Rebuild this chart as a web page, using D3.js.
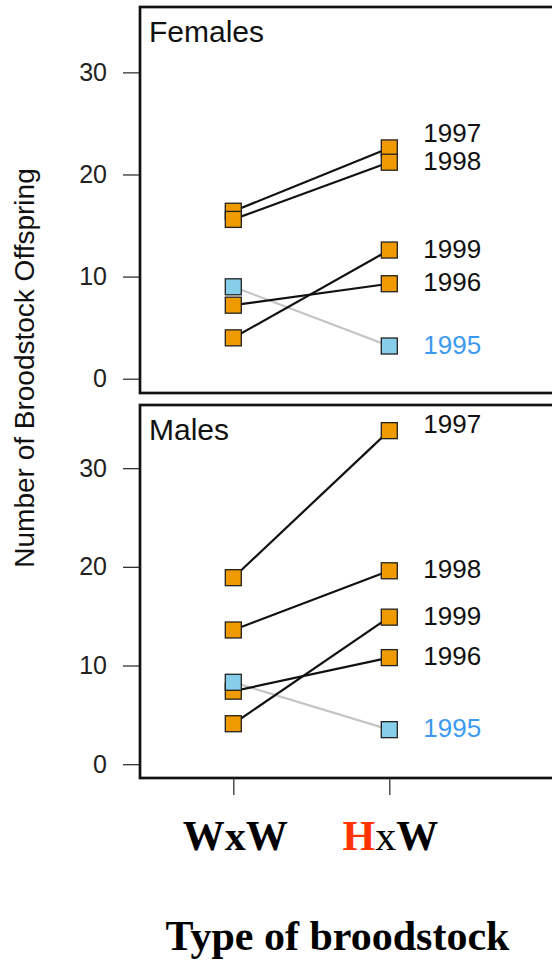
<!DOCTYPE html>
<meta charset="utf-8">
<script src="https://d3js.org/d3.v7.min.js"></script>
<style>
  body { margin: 0; background: #fff; }
  text { font-family: "Liberation Sans", Arial, sans-serif; }
  .serif { font-family: "Liberation Serif", "Times New Roman", serif; font-weight: bold; }
</style>
<div id="chart"></div>
<script>
// data
var years = ["1997", "1998", "1999", "1996", "1995"];
var groups = ["WxW", "HxW"];
var femalesWxW = [16.4, 15.6, 4.0, 7.2, 9.0];
var femalesHxW = [22.6, 21.2, 12.6, 9.3, 3.2];
var malesWxW = [18.9, 13.6, 4.1, 7.4, 8.3];
var malesHxW = [33.8, 19.6, 14.9, 10.8, 3.5];
var yTicks = [0, 10, 20, 30];

var width = 552, height = 963;
var orange = "#ee9a00", sky = "#87ceeb";

var svg = d3.select("#chart").append("svg")
    .attr("width", width)
    .attr("height", height);

// both panels share x
var x = d3.scalePoint().domain(groups).range([233.3, 389.3]);

var panels = [
  {name: "Females", wxw: femalesWxW, hxw: femalesHxW, top: 7, bottom: 393},
  {name: "Males", wxw: malesWxW, hxw: malesHxW, top: 405, bottom: 778}
];

panels.forEach(function(p) {
  // R style ylim c(0,35) with 4% padding
  var y = d3.scaleLinear().domain([-1.4, 36.4]).range([p.bottom, p.top]);
  var g = svg.append("g");

  // y axis
  var ax = g.append("g")
      .attr("transform", "translate(140,0)")
      .call(d3.axisLeft(y).tickValues(yTicks).tickSize(17).tickPadding(16));
  ax.select(".domain").remove();
  ax.selectAll("line").attr("stroke", "#333").attr("stroke-width", 1.3);
  ax.selectAll("text")
      .attr("fill", "#222")
      .style("font-size", "25px")
      .style("font-family", "Liberation Sans, Arial, sans-serif");

  var rows = years.map(function(yr, i) {
    return {year: yr, values: [p.wxw[i], p.hxw[i]]};
  });

  // lines first, grey one underneath
  var line = d3.line()
      .x(function(d, i) { return x(groups[i]); })
      .y(function(d) { return y(d); });
  var lineOrder = rows.slice().sort(function(a, b) { return a.year === "1995" ? -1 : 0; });
  g.selectAll(".ln")
      .data(lineOrder)
      .enter().append("path")
      .attr("d", function(d) { return line(d.values); })
      .attr("fill", "none")
      .attr("stroke", function(d) { return d.year === "1995" ? "#c4c4c4" : "#111"; })
      .attr("stroke-width", 2.2);

  // squares
  var sq = 16;
  rows.forEach(function(r) {
    g.selectAll(null)
        .data(r.values)
        .enter().append("rect")
        .attr("x", function(d, i) { return x(groups[i]) - sq / 2; })
        .attr("y", function(d) { return y(d) - sq / 2; })
        .attr("width", sq)
        .attr("height", sq)
        .attr("fill", r.year === "1995" ? sky : orange)
        .attr("stroke", "#222")
        .attr("stroke-width", 1.3);
  });

  // year labels next to the HxW points, pushed apart when they crowd
  var labs = rows.map(function(r) { return {year: r.year, ly: y(r.values[1]) - 1.5}; });
  labs.sort(function(a, b) { return b.ly - a.ly; });
  for (var i = 1; i < labs.length; i++) {
    if (labs[i - 1].ly - labs[i].ly < 28) labs[i].ly = labs[i - 1].ly - 28;
  }
  // hand placed in the original
  if (p.name === "Males") labs.forEach(function(l) { if (l.year === "1997") l.ly -= 5; });

  g.selectAll(".lab")
      .data(labs)
      .enter().append("text")
      .attr("x", x("HxW") + 34)
      .attr("y", function(d) { return d.ly; })
      .attr("dy", "0.35em")
      .style("font-size", "26px")
      .attr("fill", function(d) { return d.year === "1995" ? "#3d9af2" : "#111"; })
      .text(function(d) { return d.year; });

  // panel box
  g.append("rect")
      .attr("x", 140)
      .attr("y", p.top)
      .attr("width", 440)
      .attr("height", p.bottom - p.top)
      .attr("fill", "none")
      .attr("stroke", "#111")
      .attr("stroke-width", 2.7);

  g.append("text")
      .attr("x", 149)
      .attr("y", p.top + 35)
      .style("font-size", "30px")
      .attr("fill", "#111")
      .text(p.name);

  if (p.name === "Males") {
    var bx = g.append("g")
        .attr("transform", "translate(0," + p.bottom + ")")
        .call(d3.axisBottom(x).tickSize(17).tickFormat(""));
    bx.select(".domain").remove();
    bx.selectAll("line").attr("stroke", "#333").attr("stroke-width", 1.3);
  }
});

// y axis title
svg.append("text")
    .attr("transform", "translate(34,368) rotate(-90)")
    .attr("text-anchor", "middle")
    .style("font-size", "28px")
    .attr("fill", "#111")
    .text("Number of Broodstock Offspring");

// category labels
var wx = svg.append("text")
    .attr("class", "serif")
    .attr("x", x("WxW") + 2)
    .attr("y", 850)
    .attr("text-anchor", "middle")
    .style("font-size", "42px");
wx.text("WxW");

var hx = svg.append("text")
    .attr("class", "serif")
    .attr("x", x("HxW") + 1)
    .attr("y", 850)
    .attr("text-anchor", "middle")
    .style("font-size", "42px");
hx.append("tspan").attr("fill", "#ff3300").text("H");
hx.append("tspan").style("font-weight", "normal").text("x");
hx.append("tspan").text("W");

svg.append("text")
    .attr("class", "serif")
    .attr("x", 337.5)
    .attr("y", 950)
    .attr("text-anchor", "middle")
    .style("font-size", "42px")
    .text("Type of broodstock");
</script>
